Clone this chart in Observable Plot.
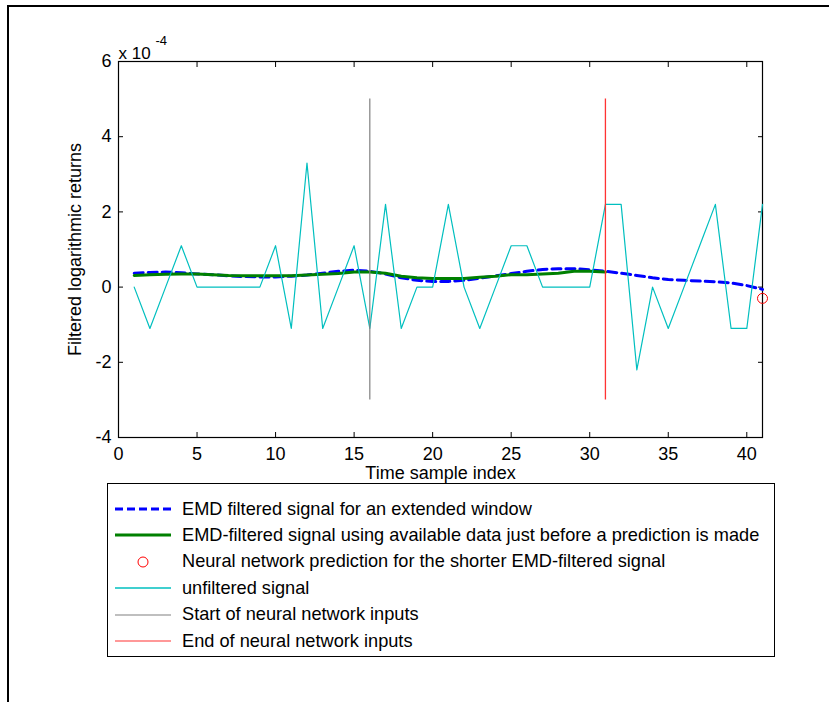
<!DOCTYPE html>
<html>
<head>
<meta charset="utf-8">
<script src="https://cdn.jsdelivr.net/npm/d3@7"></script>
<script src="https://cdn.jsdelivr.net/npm/@observablehq/plot@0.6"></script>
<style>
  body { margin: 0; background: #fff; font-family: "Liberation Sans", Arial, sans-serif; }
  #fig { position: relative; width: 829px; height: 702px; overflow: hidden; background: #fff; }
  #outer { position: absolute; left: 7px; top: 5px; width: 900px; height: 800px;
           border-top: 2px solid #000; border-left: 2px solid #000; }
  #chart { position: absolute; left: 0; top: 0; }
  #legend { position: absolute; left: 107px; top: 483px; width: 666px; height: 172px;
            border: 1px solid #000; background: #fff; }
  .row { position: absolute; left: 0; height: 26px; display: flex; align-items: center;
         font-size: 18.2px; color: #000; white-space: nowrap; }
  .row svg { margin-left: 7px; margin-right: 9px; }
</style>
</head>
<body>
<div id="fig">
  <div id="outer"></div>
  <div id="chart"></div>
  <div id="legend"></div>
</div>
<script>
// Sample index (time) and signals, in units of 1e-4
const sampleIndex = [1, 2, 3, 4, 5, 6, 7, 8, 9, 10, 11, 12, 13, 14, 15, 16, 17, 18, 19, 20,
                     21, 22, 23, 24, 25, 26, 27, 28, 29, 30, 31, 32, 33, 34, 35, 36, 37, 38, 39, 40, 41];
const unfiltered = [0, -1.1, 0, 1.1, 0, 0, 0, 0, 0, 1.1, -1.1, 3.3, -1.1, 0, 1.1, -1.1, 2.2, -1.1, 0, 0,
                    2.2, 0, -1.1, 0, 1.1, 1.1, 0, 0, 0, 0, 2.2, 2.2, -2.2, 0, -1.1, 0, 1.1, 2.2, -1.1, -1.1, 2.2];
const emdExtended = [0.37, 0.39, 0.40, 0.38, 0.35, 0.33, 0.30, 0.28, 0.27, 0.27, 0.29, 0.32, 0.37, 0.42, 0.45,
                     0.42, 0.35, 0.25, 0.18, 0.15, 0.15, 0.18, 0.24, 0.30, 0.36, 0.42, 0.47, 0.49, 0.49, 0.46,
                     0.42, 0.37, 0.31, 0.25, 0.20, 0.18, 0.16, 0.14, 0.11, 0.04, -0.06];
const emdAvailable = [0.31, 0.33, 0.34, 0.35, 0.35, 0.33, 0.31, 0.30, 0.30, 0.30, 0.30, 0.32, 0.34, 0.36, 0.40,
                      0.40, 0.37, 0.29, 0.25, 0.23, 0.23, 0.23, 0.26, 0.29, 0.33, 0.33, 0.35, 0.37, 0.42, 0.42, 0.40];
const predictionIndex = [41];
const predictionValue = [-0.3];
const inputStart = 16;
const inputEnd = 31;
const markerRange = [-3, 5];

const xTicks = [0, 5, 10, 15, 20, 25, 30, 35, 40];
const yTicks = [-4, -2, 0, 2, 4, 6];
const xLabel = "Time sample index";
const yLabel = "Filtered logarithmic returns";
const exponentBase = "x 10";
const exponentPower = "-4";

const legendItems = [
  {key: "ext", label: "EMD filtered signal for an extended window"},
  {key: "avail", label: "EMD-filtered signal using available data just before a prediction is made"},
  {key: "pred", label: "Neural network prediction for the shorter EMD-filtered signal"},
  {key: "raw", label: "unfiltered signal"},
  {key: "start", label: "Start of neural network inputs"},
  {key: "end", label: "End of neural network inputs"}
];

const colors = {ext: "#0000ff", avail: "#008000", pred: "#ff0000", raw: "#00bfbf", start: "#808080", end: "#ff3333"};

const rows = (ys) => ys.map((y, i) => ({x: sampleIndex[i], y}));
const extData = rows(emdExtended);
const availData = rows(emdAvailable);
const rawData = rows(unfiltered);
const predData = predictionIndex.map((x, i) => ({x, y: predictionValue[i]}));

const chart = Plot.plot({
  width: 829,
  height: 702,
  marginLeft: 118,
  marginRight: 67,
  marginTop: 61,
  marginBottom: 265,
  x: {domain: [0, 41]},
  y: {domain: [-4, 6]},
  style: {fontFamily: "'Liberation Sans', Arial, sans-serif", fontSize: "18px", background: "transparent", overflow: "visible", color: "#000"},
  marks: [
    Plot.frame({stroke: "#000", strokeWidth: 1.2}),
    Plot.axisX({anchor: "bottom", ticks: xTicks, tickSize: -5, tickPadding: 15, label: null, tickFormat: d => String(d), fontSize: 18}),
    Plot.axisX({anchor: "top", ticks: xTicks, tickSize: -5, label: null, tickFormat: () => ""}),
    Plot.axisY({anchor: "left", ticks: yTicks, tickSize: -5, tickPadding: 12, label: null, tickFormat: d => String(d), fontSize: 18}),
    Plot.axisY({anchor: "right", ticks: yTicks, tickSize: -5, label: null, tickFormat: () => ""}),
    Plot.line(extData, {x: "x", y: "y", stroke: colors.ext, strokeWidth: 3, strokeDasharray: "9,5"}),
    Plot.line(availData, {x: "x", y: "y", stroke: colors.avail, strokeWidth: 3}),
    Plot.dot(predData, {x: "x", y: "y", r: 5, stroke: colors.pred, fill: "none", strokeWidth: 1}),
    Plot.line(rawData, {x: "x", y: "y", stroke: colors.raw, strokeWidth: 1.2}),
    Plot.ruleX([inputStart], {y1: markerRange[0], y2: markerRange[1], stroke: colors.start, strokeWidth: 1.2}),
    Plot.ruleX([inputEnd], {y1: markerRange[0], y2: markerRange[1], stroke: colors.end, strokeWidth: 1.3}),
    Plot.text([exponentBase], {frameAnchor: "top-left", textAnchor: "start", dy: -15, fontSize: 17}),
    Plot.text([exponentPower], {frameAnchor: "top-left", textAnchor: "start", dx: 37, dy: -26, fontSize: 13}),
    Plot.text([xLabel], {frameAnchor: "bottom", dy: 41, fontSize: 18}),
    Plot.text([yLabel], {frameAnchor: "left", textAnchor: "middle", rotate: -90, dx: -43, fontSize: 18})
  ]
});
document.getElementById("chart").appendChild(chart);

// Legend: one row per series with a small line/marker swatch
const legend = document.getElementById("legend");
const swatch = (key) => {
  const c = colors[key];
  if (key === "pred") return `<svg width="58" height="14"><circle cx="28" cy="7" r="5" fill="none" stroke="${c}" stroke-width="1"/></svg>`;
  const w = key === "ext" || key === "avail" ? 3 : (key === "raw" ? 1.5 : 1.2);
  const dash = key === "ext" ? ` stroke-dasharray="8,4"` : "";
  return `<svg width="58" height="14"><line x1="0" y1="7" x2="56" y2="7" stroke="${c}" stroke-width="${w}"${dash}/></svg>`;
};
legendItems.forEach((item, i) => {
  const row = document.createElement("div");
  row.className = "row";
  row.style.top = (12 + i * 26.4) + "px";
  row.innerHTML = swatch(item.key) + `<span>${item.label}</span>`;
  legend.appendChild(row);
});
</script>
</body>
</html>
